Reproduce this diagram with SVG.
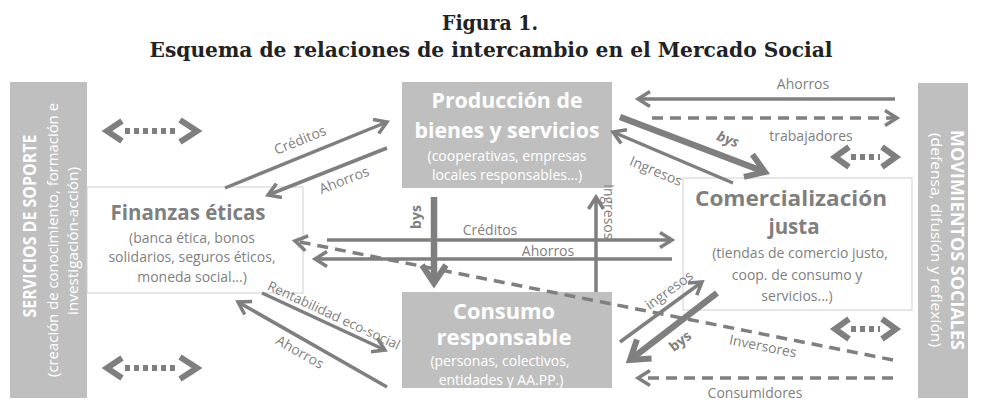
<svg xmlns="http://www.w3.org/2000/svg" width="981" height="405" viewBox="0 0 981 405">
<style>
.ttl{font-family:'DejaVu Serif Condensed','DejaVu Serif',serif;font-weight:bold;fill:#222;text-anchor:middle}
.t{font-family:'Open Sans','Liberation Sans',sans-serif;fill:#7f7f7f}
.m{text-anchor:middle}
.b{font-weight:bold}
.w{fill:#ffffff}
.gbox{fill:#bfbfbf}
.wbox{fill:#ffffff;stroke:#cfcfcf;stroke-width:1}
.ln{fill:none;stroke:#7f7f7f;stroke-width:3.5}
.th{fill:none;stroke:#7f7f7f;stroke-width:6.5}
.ds{stroke-dasharray:11 7}
.ch{fill:none;stroke:#7f7f7f;stroke-width:6;stroke-linejoin:miter}
.dot{fill:none;stroke:#7f7f7f;stroke-width:6;stroke-dasharray:5 4}
</style>
<defs>
<marker id="ah" markerUnits="userSpaceOnUse" viewBox="0 0 18 18" markerWidth="18" markerHeight="18" refX="15" refY="9" orient="auto" overflow="visible">
<path d="M3,1.5 L15,9 L3,16.5" fill="none" stroke="#7f7f7f" stroke-width="3.5"/>
</marker>
<marker id="ahb" markerUnits="userSpaceOnUse" viewBox="0 0 28 28" markerWidth="28" markerHeight="28" refX="23" refY="14" orient="auto" overflow="visible">
<path d="M5,2 L23,14 L5,26" fill="none" stroke="#7f7f7f" stroke-width="6"/>
</marker>
</defs>

<text class="ttl" x="490" y="30" font-size="21">Figura 1.</text>
<text class="ttl" x="491" y="57" font-size="20" textLength="683" lengthAdjust="spacingAndGlyphs">Esquema de relaciones de intercambio en el Mercado Social</text>

<g id="servicios">
<rect class="gbox" x="10" y="82" width="77" height="316"/>
<text class="t w b m" font-size="18" textLength="183" lengthAdjust="spacingAndGlyphs" transform="translate(36,226) rotate(-90)">SERVICIOS DE SOPORTE</text>
<text class="t w m" font-size="15" textLength="274" lengthAdjust="spacingAndGlyphs" transform="translate(58,240) rotate(-90)">(creación de conocimiento, formación e</text>
<text class="t w m" font-size="15" textLength="148" lengthAdjust="spacingAndGlyphs" transform="translate(78,241) rotate(-90)">investigación-acción)</text>
</g>

<g id="movimientos">
<rect class="gbox" x="918" y="83" width="50" height="315"/>
<text class="t w b m" font-size="18" textLength="220" lengthAdjust="spacingAndGlyphs" transform="translate(951,240) rotate(90)">MOVIMIENTOS SOCIALES</text>
<text class="t w m" font-size="15" textLength="214" lengthAdjust="spacingAndGlyphs" transform="translate(931,240) rotate(90)">(defensa, difusión y reflexión)</text>
</g>

<g id="finanzas">
<rect class="wbox" x="87" y="187" width="216" height="106"/>
<text class="t b m" x="188" y="220" font-size="21" textLength="155" lengthAdjust="spacingAndGlyphs">Finanzas éticas</text>
<text class="t m" x="192" y="243" font-size="14">(banca ética, bonos</text>
<text class="t m" x="192" y="262" font-size="14">solidarios, seguros éticos,</text>
<text class="t m" x="192" y="282" font-size="14">moneda social...)</text>
</g>

<g id="produccion">
<rect class="gbox" x="402" y="82" width="210" height="106"/>
<text class="t w b m" x="507" y="108" font-size="21" textLength="151" lengthAdjust="spacingAndGlyphs">Producción de</text>
<text class="t w b m" x="507" y="138" font-size="21" textLength="185" lengthAdjust="spacingAndGlyphs">bienes y servicios</text>
<text class="t w m" x="507" y="161" font-size="14">(cooperativas, empresas</text>
<text class="t w m" x="507" y="180" font-size="14">locales responsables...)</text>
</g>

<g id="comercializacion">
<rect class="wbox" x="683" y="178" width="229" height="132"/>
<text class="t b m" x="791" y="206" font-size="21" textLength="192" lengthAdjust="spacingAndGlyphs">Comercialización</text>
<text class="t b m" x="794" y="234" font-size="20.5">justa</text>
<text class="t m" x="800" y="258" font-size="14">(tiendas de comercio justo,</text>
<text class="t m" x="797" y="280" font-size="14">coop. de consumo y</text>
<text class="t m" x="797" y="301" font-size="14">servicios...)</text>
</g>

<g id="consumo">
<rect class="gbox" x="402" y="292" width="210" height="96"/>
<text class="t w b m" x="504" y="319" font-size="21" textLength="102" lengthAdjust="spacingAndGlyphs">Consumo</text>
<text class="t w b m" x="504" y="345" font-size="21" textLength="135" lengthAdjust="spacingAndGlyphs">responsable</text>
<text class="t w m" x="500" y="366" font-size="14">(personas, colectivos,</text>
<text class="t w m" x="501" y="385" font-size="14">entidades y AA.PP.)</text>
</g>

<g id="connectors">
<path class="ln" d="M225,188 L387,122" marker-end="url(#ah)"/>
<path class="ln" d="M387,148 L268,195" marker-end="url(#ah)"/>
<path class="ln" d="M327,240 L672,240" marker-end="url(#ah)"/>
<path class="ln" d="M672,259 L315,259" marker-end="url(#ah)"/>
<path class="th" d="M434,197 L434,283" marker-end="url(#ahb)"/>
<path class="ln" d="M596,292 L596,197" marker-end="url(#ah)"/>
<path class="ln" d="M895,99 L638,99" marker-end="url(#ah)"/>
<path class="ln ds" d="M652,118 L897,118" marker-end="url(#ah)"/>
<path class="th" d="M620,117 L765,172" marker-end="url(#ahb)"/>
<path class="ln" d="M733,183 L613,132" marker-end="url(#ah)"/>
<path class="ln" d="M620,342 L702,282" marker-end="url(#ah)"/>
<path class="th" d="M717,293 L630,360" marker-end="url(#ahb)"/>
<path class="ln ds" d="M893,360 L295,241" marker-end="url(#ah)"/>
<path class="ln ds" d="M893,378 L638,378" marker-end="url(#ah)"/>
<path class="ln" d="M262,293 L385,350" marker-end="url(#ah)"/>
<path class="ln" d="M387,387 L238,302" marker-end="url(#ah)"/>

<polyline class="ch" points="122,121 107,131 122,141"/>
<line class="dot" x1="125" y1="131" x2="176" y2="131"/>
<polyline class="ch" points="180,120 197,131 180,142"/>

<polyline class="ch" points="122,358 107,368 122,378"/>
<line class="dot" x1="125" y1="368" x2="176" y2="368"/>
<polyline class="ch" points="180,357 197,368 180,379"/>

<polyline class="ch" points="849,147 835,157 849,167"/>
<line class="dot" x1="851" y1="157" x2="880" y2="157"/>
<polyline class="ch" points="882,147 896,157 882,167"/>

<polyline class="ch" points="849,319 835,329 849,339"/>
<line class="dot" x1="851" y1="329" x2="880" y2="329"/>
<polyline class="ch" points="882,319 896,329 882,339"/>

<text class="t m" font-size="14" transform="translate(300,140) rotate(-22.2)" y="5">Créditos</text>
<text class="t m" font-size="14" transform="translate(344,180) rotate(-21.5)" y="5">Ahorros</text>
<text class="t m" font-size="14" x="490" y="235">Créditos</text>
<text class="t m" font-size="14" x="548" y="256">Ahorros</text>
<text class="t b m" font-size="14" transform="translate(421,217) rotate(-90)">bys</text>
<text class="t" font-size="14" transform="translate(604,184) rotate(90)">Ingresos</text>
<text class="t m" font-size="14" x="803" y="89">Ahorros</text>
<text class="t m" font-size="14" x="811" y="141">trabajadores</text>
<text class="t b m" font-size="14" font-style="italic" transform="translate(728,139) rotate(20.8)" y="5">bys</text>
<text class="t m" font-size="14" transform="translate(656,171) rotate(23)" y="5">Ingresos</text>
<text class="t m" font-size="14" transform="translate(669,290) rotate(-36.2)" y="5">ingresos</text>
<text class="t b m" font-size="14" transform="translate(680,341) rotate(-37.6)" y="5">bys</text>
<text class="t m" font-size="14" transform="translate(763,346) rotate(11.25)" y="5">Inversores</text>
<text class="t m" font-size="14" x="755" y="398">Consumidores</text>
<text class="t m" font-size="13.5" transform="translate(334,315) rotate(24.9)" y="5">Rentabilidad eco-social</text>
<text class="t m" font-size="14" transform="translate(300,352) rotate(29.7)" y="5">Ahorros</text>
</g>
</svg>
